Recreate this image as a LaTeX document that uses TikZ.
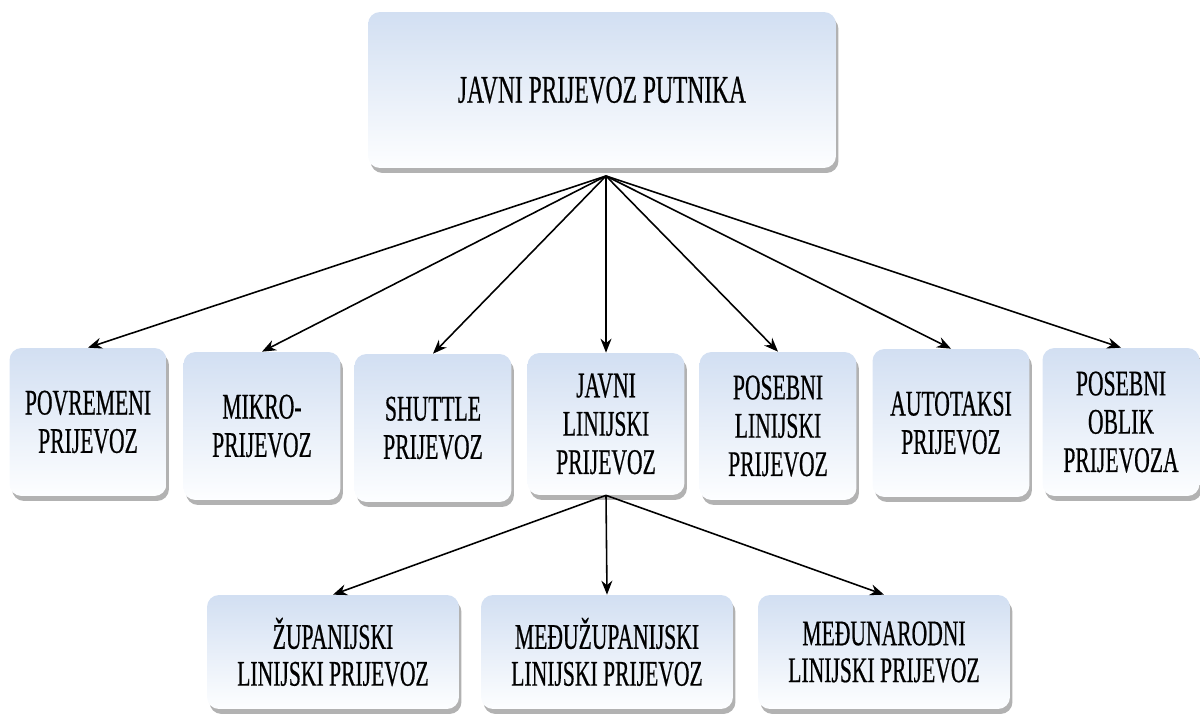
\documentclass[tikz,border=0pt]{standalone}
\usepackage{fontspec}
\setmainfont[FakeStretch=0.6, FakeBold=0.5]{Liberation Serif}
\usepackage{tikz}
\usetikzlibrary{arrows.meta,shadows}
\definecolor{boxtop}{RGB}{210,223,242}
\definecolor{boxbottom}{RGB}{253,254,255}
\tikzset{
	kutija/.style={rounded corners=0.24cm, top color=boxtop, bottom color=boxbottom, align=center, inner sep=0pt,
		font=\fontsize{20.5}{21.8}\selectfont,
		drop shadow={shadow xshift=0.05cm, shadow yshift=-0.1cm, fill=black!60, opacity=0.5}},
	mala/.style={kutija, minimum width=3.14cm, minimum height=2.96cm},
	donja/.style={kutija, minimum width=5.04cm, minimum height=2.28cm, font=\fontsize{20.5}{21}\selectfont},
	strelica/.style={-{Stealth[length=0.28cm, width=0.22cm]}, line width=0.9pt},
}

\begin{document}
\begin{tikzpicture}[x=0.02cm, y=-0.02cm]
		%%%%% START %%%%%
		\useasboundingbox (0, 0) rectangle (1200, 716);
		
		\node[kutija, minimum width=9.36cm, minimum height=3.12cm, font=\fontsize{22.3}{24}\selectfont] (javni) at (602, 90) {JAVNI PRIJEVOZ PUTNIKA};
		\coordinate (hub) at (606, 176);
		
		\node[mala] (povremeni) at (88, 422) {POVREMENI\\PRIJEVOZ};
		\node[mala] (mikro) at (262, 426) {MIKRO-\\PRIJEVOZ};
		\node[mala] (shuttle) at (433, 428) {SHUTTLE\\PRIJEVOZ};
		\node[mala, minimum height=2.84cm] (linijski) at (606, 424) {JAVNI\\LINIJSKI\\PRIJEVOZ};
		\node[mala] (posebni) at (778, 426) {POSEBNI\\LINIJSKI\\PRIJEVOZ};
		\node[mala] (autotaksi) at (951, 423) {AUTOTAKSI\\PRIJEVOZ};
		\node[mala] (oblik) at (1121, 422) {POSEBNI\\OBLIK\\PRIJEVOZA};
		
		\draw[strelica] (hub) -- (povremeni.north);
		\draw[strelica] (hub) -- (mikro.north);
		\draw[strelica] (hub) -- (shuttle.north);
		\draw[strelica] (hub) -- (linijski.north);
		\draw[strelica] (hub) -- (posebni.north);
		\draw[strelica] (hub) -- (autotaksi.north);
		\draw[strelica] (hub) -- (oblik.north);
		
		\node[donja] (zupanijski) at (333, 652) {ŽUPANIJSKI\\LINIJSKI PRIJEVOZ};
		\node[donja] (meduzupanijski) at (607, 652) {MEĐUŽUPANIJSKI\\LINIJSKI PRIJEVOZ};
		\node[donja] (medunarodni) at (884, 652) {MEĐUNARODNI\\LINIJSKI PRIJEVOZ};
		
		\draw[strelica] (linijski.south) -- (zupanijski.north);
		\draw[strelica] (linijski.south) -- (meduzupanijski.north);
		\draw[strelica] (linijski.south) -- (medunarodni.north);
		%%%%% END %%%%%
\end{tikzpicture}
\end{document}
